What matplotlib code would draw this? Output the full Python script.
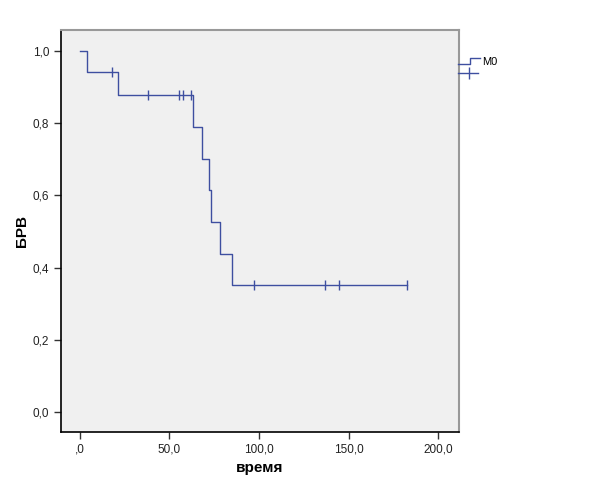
import matplotlib
matplotlib.use("Agg")
import matplotlib.pyplot as plt
from matplotlib.lines import Line2D

plt.rcParams["font.family"] = ["Liberation Sans", "DejaVu Sans"]

# step curve (time, survival)
step_t = [0, 4, 21, 63, 68, 72, 73, 78, 85, 182.5]
step_s = [1.0, 0.941, 0.878, 0.79, 0.702, 0.614, 0.527, 0.439, 0.352, 0.352]

# censored observations
cens_t = [18, 38, 55.5, 57.5, 62, 97, 137, 144.5, 182.5]
cens_s = [0.941, 0.878, 0.878, 0.878, 0.878, 0.352, 0.352, 0.352, 0.352]

xticks = [0, 50, 100, 150, 200]
xlabels = [",0", "50,0", "100,0", "150,0", "200,0"]
yticks = [0.0, 0.2, 0.4, 0.6, 0.8, 1.0]
ylabels = ["0,0", "0,2", "0,4", "0,6", "0,8", "1,0"]

col = "#3e4fa0"

fig = plt.figure(figsize=(6.13, 4.91), dpi=100)
ax = fig.add_axes([61 / 613, 59 / 491, 398 / 613, 402 / 491])
ax.set_facecolor("#f0f0f0")

ax.step(step_t, step_s, where="post", color=col, lw=1.0)
ax.plot(cens_t, cens_s, ls="none", marker="|", ms=7, mew=1.0, color=col)

ax.set_xlim(-10.6, 211.7)
ax.set_ylim(-0.055, 1.058)
ax.set_xticks(xticks)
ax.set_xticklabels(xlabels)
ax.set_yticks(yticks)
ax.set_yticklabels(ylabels)
ax.tick_params(labelsize=8.5, length=5, width=1, color="#333333", labelcolor="#222222")
ax.set_xlabel("время", fontsize=11, fontweight="bold", labelpad=4)
ax.set_ylabel("БРВ", fontsize=11, fontweight="bold", labelpad=3)

for s in ["left", "bottom"]:
    ax.spines[s].set_color("black")
    ax.spines[s].set_linewidth(1.2)
for s in ["top", "right"]:
    ax.spines[s].set_color("#999999")
    ax.spines[s].set_linewidth(1.5)

# legend drawn outside on the right, SPSS-like
def fx(px):
    return px / 613

def fy(py):
    return 1 - py / 491

fig.add_artist(Line2D([fx(458), fx(470), fx(470), fx(480)],
                      [fy(64), fy(64), fy(58), fy(58)], color=col, lw=1.0))
fig.text(fx(482), fy(62), "M0", fontsize=8, va="center", ha="left")
fig.add_artist(Line2D([fx(458), fx(478)], [fy(73), fy(73)], color=col, lw=1.0))
fig.add_artist(Line2D([fx(469)], [fy(73)], color=col, marker="|", ms=8, mew=1.0))

fig.savefig("out.png", dpi=100)
